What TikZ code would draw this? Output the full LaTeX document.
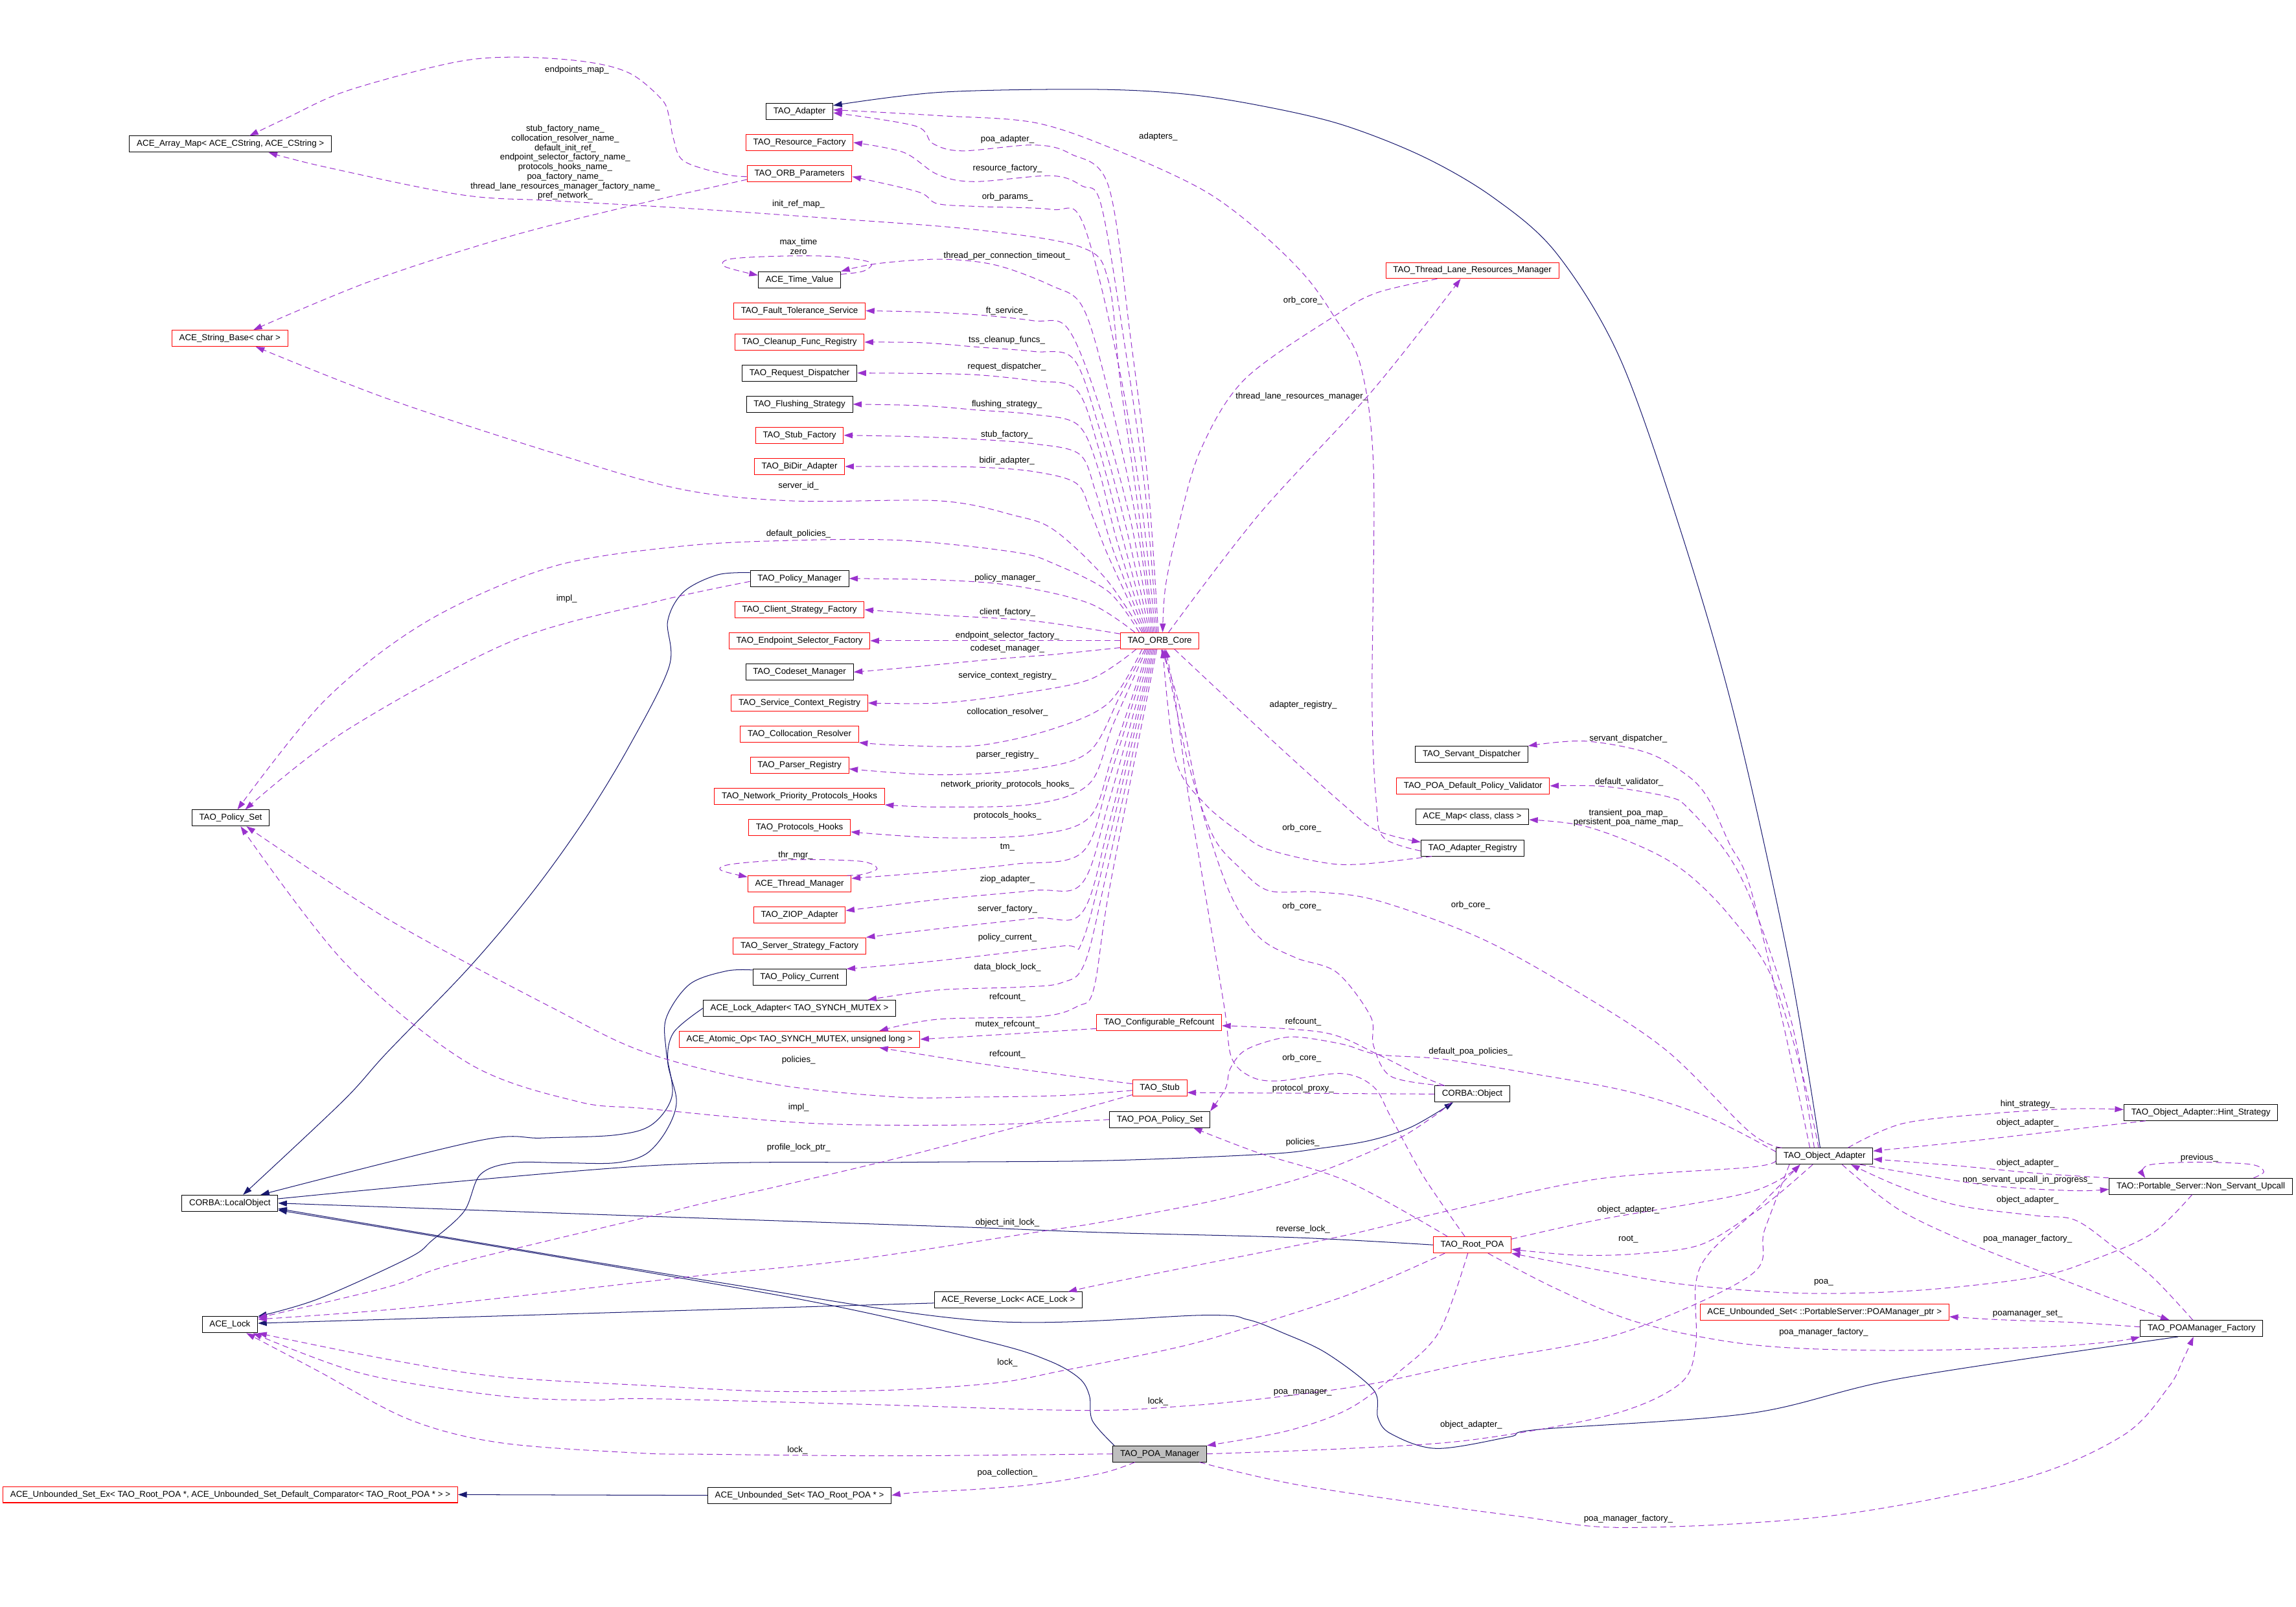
\documentclass[tikz,border=0pt]{standalone}
\usepackage{fontspec}
\setmainfont{Liberation Sans}
\usetikzlibrary{arrows.meta}
\definecolor{depc}{HTML}{9A32CD}
\definecolor{inhc}{HTML}{191970}
\definecolor{grayfill}{HTML}{BFBFBF}
\begin{document}
\begin{tikzpicture}[x=1pt,y=-1pt,
 cbox/.style={draw=black,line width=0.45pt,minimum height=11pt,inner xsep=5pt,inner ysep=0pt,font=\fontsize{5.9}{6}\selectfont},
 rbox/.style={cbox,draw=red},
 lbl/.style={font=\fontsize{5.9}{6.5}\selectfont,inner sep=0pt,align=center},
 dep/.style={draw=depc,line width=0.45pt,dash pattern=on 4pt off 2.5pt,-{Triangle[length=6pt,width=4pt]}},
 inh/.style={draw=inhc,line width=0.45pt,-{Triangle[length=6pt,width=4pt]}},
 sm/.style={smooth,tension=0.55}]
\useasboundingbox (0,0) rectangle (1568,1097.2);
% ---------- nodes ----------
\node[cbox] (arraymap) at (157.4,98.4) {ACE\_Array\_Map< ACE\_CString, ACE\_CString >};
\node[rbox] (strbase) at (157,231) {ACE\_String\_Base< char >};
\node[cbox] (polset) at (157.5,558.5) {TAO\_Policy\_Set};
\node[cbox] (localobj) at (157,821.5) {CORBA::LocalObject};
\node[cbox] (acelock) at (157,904.5) {ACE\_Lock};
\node[rbox] (usetex) at (157.3,1020.5) {ACE\_Unbounded\_Set\_Ex< TAO\_Root\_POA *, ACE\_Unbounded\_Set\_Default\_Comparator< TAO\_Root\_POA * > >};
\node[cbox] (adapter) at (546,76) {TAO\_Adapter};
\node[rbox] (resfac) at (546,97.3) {TAO\_Resource\_Factory};
\node[rbox] (orbparams) at (546,118.6) {TAO\_ORB\_Parameters};
\node[cbox] (timeval) at (546,191) {ACE\_Time\_Value};
\node[rbox] (ftserv) at (546,212.2) {TAO\_Fault\_Tolerance\_Service};
\node[rbox] (cleanup) at (546,233.6) {TAO\_Cleanup\_Func\_Registry};
\node[cbox] (reqdisp) at (546,254.7) {TAO\_Request\_Dispatcher};
\node[cbox] (flush) at (546,276) {TAO\_Flushing\_Strategy};
\node[rbox] (stubfac) at (546,297.2) {TAO\_Stub\_Factory};
\node[rbox] (bidir) at (546,318.5) {TAO\_BiDir\_Adapter};
\node[cbox] (polmgr) at (546,395) {TAO\_Policy\_Manager};
\node[rbox] (clistrat) at (546,416.3) {TAO\_Client\_Strategy\_Factory};
\node[rbox] (endpt) at (546,437.5) {TAO\_Endpoint\_Selector\_Factory};
\node[cbox] (codeset) at (546,458.9) {TAO\_Codeset\_Manager};
\node[rbox] (svcctx) at (546,480) {TAO\_Service\_Context\_Registry};
\node[rbox] (colloc) at (546,501.3) {TAO\_Collocation\_Resolver};
\node[rbox] (parser) at (546,522.5) {TAO\_Parser\_Registry};
\node[rbox] (netprio) at (546,543.8) {TAO\_Network\_Priority\_Protocols\_Hooks};
\node[rbox] (prothooks) at (546,565) {TAO\_Protocols\_Hooks};
\node[rbox] (thrmgr) at (546,603.5) {ACE\_Thread\_Manager};
\node[rbox] (ziop) at (546,624.8) {TAO\_ZIOP\_Adapter};
\node[rbox] (srvstrat) at (546,646) {TAO\_Server\_Strategy\_Factory};
\node[cbox] (polcur) at (546,667.3) {TAO\_Policy\_Current};
\node[cbox] (lockadapt) at (546,688.4) {ACE\_Lock\_Adapter< TAO\_SYNCH\_MUTEX >};
\node[rbox] (atomic) at (546,709.6) {ACE\_Atomic\_Op< TAO\_SYNCH\_MUTEX, unsigned long >};
\node[cbox] (uset) at (546,1021) {ACE\_Unbounded\_Set< TAO\_Root\_POA * >};
\node[cbox] (revlock) at (688.6,887.7) {ACE\_Reverse\_Lock< ACE\_Lock >};
\node[rbox] (orbcore) at (792,437.5) {TAO\_ORB\_Core};
\node[rbox] (confref) at (791.6,698.3) {TAO\_Configurable\_Refcount};
\node[rbox] (stub) at (792,743) {TAO\_Stub};
\node[cbox] (poapolset) at (792,764.4) {TAO\_POA\_Policy\_Set};
\node[cbox,fill=grayfill] (poamgr) at (792,992.7) {TAO\_POA\_Manager};
\node[rbox] (tlrm) at (1005.5,184.7) {TAO\_Thread\_Lane\_Resources\_Manager};
\node[cbox] (servdisp) at (1005,515) {TAO\_Servant\_Dispatcher};
\node[rbox] (validator) at (1006,536.6) {TAO\_POA\_Default\_Policy\_Validator};
\node[cbox] (acemap) at (1005.4,557.7) {ACE\_Map< class, class >};
\node[cbox] (adreg) at (1005.7,579) {TAO\_Adapter\_Registry};
\node[cbox] (corbaobj) at (1005.4,747) {CORBA::Object};
\node[rbox] (rootpoa) at (1005.4,850) {TAO\_Root\_POA};
\node[cbox] (objadapt) at (1246,789.4) {TAO\_Object\_Adapter};
\node[rbox] (usetmgr) at (1246,896) {ACE\_Unbounded\_Set< ::PortableServer::POAManager\_ptr >};
\node[cbox] (hint) at (1503,759.6) {TAO\_Object\_Adapter::Hint\_Strategy};
\node[cbox] (nsu) at (1503,810) {TAO::Portable\_Server::Non\_Servant\_Upcall};
\node[cbox] (poamgrfac) at (1503.5,907) {TAO\_POAManager\_Factory};
% ---------- inheritance ----------
\draw[inh] plot[sm] coordinates {([xshift=-3pt]objadapt.north) (1221,653) (1184,487) (1147,360) (1106,244) (1063,173) (1020,135) (972,107) (916,85) (860,72) (807,64) (744,61) (642,63) ([yshift=4pt]adapter.east)};
\draw[inh] plot[sm] coordinates {([yshift=4pt]polmgr.west) (490,392.5) (467,404) (456,424) (457,455) (430,509) (399,560) (363,610) (320,661) (264,719) (234,752) ([xshift=9pt]localobj.north)};
\draw[inh] plot[sm] coordinates {([yshift=5pt]polcur.west) (496,663) (471,672) (455,695) (455,718) (459,748) (445,768) (420,775) (370,777) (326,779) ([xshift=21pt]localobj.north)};
\draw[inh] plot[sm] coordinates {(lockadapt.west) (460,705) (456,725) (462,752) (455,772) (441,788) (420,794) (385,794) (350,794) (328,802) (317,827) (295,847) (279,859) (217,887) (acelock.north east)};
\draw[inh] plot[sm] coordinates {([yshift=3pt]localobj.east) (442,796) (617,793.6) (752,792.5) (865,788) (902,784) (935.5,778.7) (964,769.4) ([xshift=-13pt]corbaobj.south)};
\draw[inh] plot[sm] coordinates {(rootpoa.west) (885,845) (752,841.5) (662,838) (487,832) (localobj.east)};
\draw[inh] plot[sm] coordinates {([xshift=-31pt]poamgr.north) (746,970) (744,953) (737,941) (716,929) (674,916) (535,885) ([yshift=1pt]localobj.south east)};
\draw[inh] plot[sm] coordinates {([xshift=-16pt]poamgrfac.south) (1299,941) (1195,965) (1051,976) (1031,981) (981,989) (950,979) (941,968) (938,949) (906,924) (876,910) (852,901) (823,898) (674,902) (487,875) ([yshift=2pt]localobj.south east)};
\draw[inh] plot[sm] coordinates {([yshift=-2pt]revlock.west) (442,895.5) ([yshift=1pt]acelock.east)};
\draw[inh] (uset.west) -- (usetex.east);
% ---------- ORB_Core upper fan ----------
\draw[dep] plot[sm] coordinates {([xshift=-1pt]orbcore.north) (784,330) (772,230) (757,127) (731,105) (706,99) (657,103) (637,98) (625,86) ([yshift=-1pt]adapter.east)};
\draw[dep] plot[sm] coordinates {([xshift=-2pt]orbcore.north) (782,335) (768,235) (752,140) (739,127) (718,120) (665,124) (640,119) (617,104) (resfac.east)};
\draw[dep] plot[sm] coordinates {([xshift=-3pt]orbcore.north) (779,340) (762,240) (739,151) (718,143) (668,141) (640,139) (627,131) ([yshift=-2pt]orbparams.east)};
\draw[dep] plot[sm] coordinates {([xshift=-4pt]orbcore.north) (777,345) (765,260) (757,192) (739,169) (668,157) (566,149) (465,142) (377,137) (315,133) (222,114) ([xshift=26pt]arraymap.south)};
\draw[dep] plot[sm] coordinates {([xshift=-5pt]orbcore.north) (775,350) (755,260) (739,209) (718,195) (680,181) (642,177) (599,180) (timeval.north east)};
\draw[dep] plot[sm] coordinates {([xshift=-6pt]orbcore.north) (772,355) (750,275) (729,224) (706,219) (668,215) (630,213) (ftserv.east)};
\draw[dep] plot[sm] coordinates {([xshift=-7pt]orbcore.north) (769,360) (750,290) (733,245) (706,240) (668,237) (630,234) (cleanup.east)};
\draw[dep] plot[sm] coordinates {([xshift=-8pt]orbcore.north) (766,365) (750,305) (735,266) (706,260) (668,256) (630,255) (reqdisp.east)};
\draw[dep] plot[sm] coordinates {([xshift=-9pt]orbcore.north) (763,370) (750,320) (736,290) (706,283) (668,280) (630,277) (flush.east)};
\draw[dep] plot[sm] coordinates {([xshift=-10pt]orbcore.north) (760,375) (748,335) (737,310) (706,303) (668,300) (620,298) (stubfac.east)};
\draw[dep] plot[sm] coordinates {([xshift=-11pt]orbcore.north) (757,380) (745,350) (735,330) (706,322) (668,319) (620,318.5) (bidir.east)};
\draw[dep] plot[sm] coordinates {([xshift=-12pt]orbcore.north) (755,395) (720,362) (693,352) (642,342) (541,342) (465,334) (377,309) (264,272) (strbase.-18)};
\draw[dep] plot[sm] coordinates {([xshift=-14pt]orbcore.north) (757,404) (720,385) (693,377) (617,369) (541,369) (465,373) (377,387) (292,424) (222,478) (polset.51)};
\draw[dep] plot[sm] coordinates {([xshift=-17pt]orbcore.north) (744,412) (693,400) (642,396) (polmgr.east)};
\draw[dep] plot[sm] coordinates {([yshift=-1pt]orbcore.north west) (706,424) (642,420) (clistrat.east)};
\draw[dep] (orbcore.west) -- (endpt.east);
\draw[dep] plot[sm] coordinates {([yshift=1pt]orbcore.south west) (718,447) (680,450) (617,456) (codeset.east)};
% ---------- ORB_Core lower fan ----------
\draw[dep] plot[sm] coordinates {([xshift=-16pt]orbcore.south) (744,464) (693,474) (642,480) (svcctx.east)};
\draw[dep] plot[sm] coordinates {([xshift=-12pt]orbcore.south) (757,480) (718,498) (668,509) (617,509) (colloc.south east)};
\draw[dep] plot[sm] coordinates {([xshift=-10pt]orbcore.south) (765,475) (744,513) (706,525) (642,529) ([yshift=-2.5pt]parser.east)};
\draw[dep] plot[sm] coordinates {([xshift=-9pt]orbcore.south) (760,495) (744,535) (706,549) (642,551) (netprio.south east)};
\draw[dep] plot[sm] coordinates {([xshift=-8pt]orbcore.south) (760,515) (744,558) (706,570) (642,572) ([yshift=-3pt]prothooks.east)};
\draw[dep] plot[sm] coordinates {([xshift=-7pt]orbcore.south) (758,530) (739,582) (693,590) (642,595) ([yshift=-2pt]thrmgr.north east)};
\draw[dep] plot[sm] coordinates {([xshift=-6pt]orbcore.south) (758,545) (739,603) (706,608) (642,614) ([yshift=3pt]ziop.east)};
\draw[dep] plot[sm] coordinates {([xshift=-5pt]orbcore.south) (758,560) (739,623) (706,627) (642,634) ([yshift=6pt]srvstrat.east)};
\draw[dep] plot[sm] coordinates {([xshift=-4pt]orbcore.south) (757,575) (739,643) (725,646) (640,656) (polcur.north east)};
\draw[dep] plot[sm] coordinates {([xshift=-3pt]orbcore.south) (757,590) (741,657) (725,671) (696,674) (640,676) (lockadapt.7.3)};
\draw[dep] plot[sm] coordinates {([xshift=-2pt]orbcore.south) (758,605) (747,675) (736,687) (711,694) (640,696) (atomic.6.5)};
% ---------- ORB_Core others ----------
\draw[dep] plot[sm] coordinates {([xshift=10pt]orbcore.south) (866,503) (917,549) (940,567) ([yshift=4pt]adreg.west)};
\draw[dep] plot[sm] coordinates {([xshift=6pt]orbcore.north) (860,351) (937,267) ([xshift=-8pt]tlrm.south)};
\draw[dep] plot[sm] coordinates {([xshift=-24pt]tlrm.south) (940,200) (911,216) (850,259) (820,307) (805,358) (796,400) ([xshift=2pt]orbcore.north)};
\draw[dep] plot[sm] coordinates {([xshift=-28pt]adreg.south) (930,590) (904,589) (866,580) (849,570) (823,549) (803,519) ([xshift=2pt]orbcore.south)};
\draw[dep] plot[sm] coordinates {([yshift=-2pt]adreg.west) (945,572) (940,549) (937,480) (938,320) (929,249) (911,216) (891,188) (860,158) (822,130) (766,104) (708,84) (642,79) ([yshift=1pt]adapter.east)};
\draw[dep] plot[sm] coordinates {([xshift=4pt]objadapt.north west) (1195,773) (1139,718) (1082,680) (1012,641) (941,615) (899,609) (866,608) (846,592) (828,570) (811,519) ([xshift=3pt]orbcore.south)};
\draw[dep] plot[sm] coordinates {([xshift=-5pt]rootpoa.north) (972,803) (950,763) (938,742) (916,733) (873,738) (854,735) (841,722) (836,687) (821,598) (811,539) (803,480) ([xshift=4pt]orbcore.south)};
\draw[dep] plot[sm] coordinates {([xshift=-20pt]corbaobj.north) (950,735) (938,714) (936,694) (913,664) (885,654) (860,640) (840,610) (820,550) (805,480) ([xshift=1pt]orbcore.south)};
% ---------- ORB_Parameters ----------
\draw[dep] plot[sm] coordinates {([yshift=-2pt]orbparams.west) (495,119) (467,110) (460,95) (457,80) (452,68) (430,50) (399,42) (350,39) (308,43) (237,62) (197,80) ([xshift=13pt]arraymap.north)};
\draw[dep] plot[sm] coordinates {([yshift=-4pt]orbparams.west) (433,140) (346,162) (253,192) ([xshift=16pt]strbase.north)};
% ---------- self loops ----------
\draw[dep] plot[sm] coordinates {([yshift=-2pt]timeval.north east) (590,185) (594,179) (566,175) (528,175) (498,177) (495,182) ([yshift=3pt]timeval.west)};
\draw[dep] plot[sm] coordinates {([xshift=-3pt]thrmgr.north east) (589,597) (599,593) (587,588) (541,587) (500,590) (492,594) ([yshift=-1pt]thrmgr.north west)};
\draw[dep] plot[sm] coordinates {([xshift=36pt]nsu.north) (1546,800) (1537,795) (1500,793.5) (1470,795) (1463,799) ([xshift=-38pt]nsu.north)};
% ---------- Policy_Set ----------
\draw[dep] plot[sm] coordinates {([yshift=-2pt]polmgr.west) (447,411) (349,438) (236,499) (polset.30)};
\draw[dep] plot[sm] coordinates {([yshift=-1.5pt]stub.west) (725,748) (668,749) (612,749) (527,740) (442,719) (377,688) (264,627) (polset.-28)};
\draw[dep] plot[sm] coordinates {(poapolset.west) (668,768) (555,767) (442,757) (394,752) (320,726) (236,658) (polset.-40)};
% ---------- Stub / Refcount ----------
\draw[dep] plot[sm] coordinates {([yshift=-4pt]confref.west) (690,706) (atomic.east)};
\draw[dep] plot[sm] coordinates {([yshift=3pt]stub.west) (724.7,733.8) (668,726) (atomic.-6.7)};
\draw[dep] plot[sm] coordinates {([yshift=-4.5pt]stub.west) (696,769) (612,791) (527,811) (487,820) (442,831) (310,863) (264,879) ([yshift=-1pt]acelock.north east)};
% ---------- CORBA::Object ----------
\draw[dep] plot[sm] coordinates {([xshift=7pt]corbaobj.north west) (969,734) (941,720) (904,705) ([yshift=-2pt]confref.east)};
\draw[dep] (corbaobj.west) -- ([yshift=-3pt]stub.east);
\draw[dep] plot[sm] coordinates {(corbaobj.-158) (978,763) (950,780) (893,803) (828,820) (752,834.5) (713,840.5) (584,860) (487,870) (442,875) (279,893) ([yshift=-2pt]acelock.north east)};
% ---------- Object_Adapter ----------
\draw[dep] plot[sm] coordinates {([xshift=-10pt]objadapt.north) (1218,700) (1195,605) (1181,576) (1167,546) (1153,530) (1125,514) (1082,506) (servdisp.north east)};
\draw[dep] plot[sm] coordinates {([xshift=-7pt]objadapt.north) (1224,700) (1200,625) (1181,585) (1153,552) (1139,544) (1096,537) (validator.east)};
\draw[dep] plot[sm] coordinates {([xshift=-4pt]objadapt.north) (1230,730) (1209,665) (1181,625) (1153,597) (1125,580) (1082,564) ([yshift=-2pt]acemap.east)};
\draw[dep] plot[sm] coordinates {([yshift=3pt]objadapt.west) (1167,763) (1111,745) (1040,732) (984,723) (941,720) (917,713) (885,708) (866,711) (849,718) (840,730) (837,743) (poapolset.north east)};
\draw[dep] plot[sm] coordinates {([yshift=-3pt]objadapt.west) (1195,797) (1091,805) (992,826) (921,843) (837,860) (752,877) ([xshift=-10pt]revlock.north east)};
\draw[dep] plot[sm] coordinates {([xshift=-24pt]objadapt.south) (1205,840) (1195,871) (1105,911) (1006,930) (936,945) (871,954) (809,960) (739,963) (595,959) (442,955) (403,956) (341,953) (248,938) (acelock.-20)};
\draw[dep] plot[sm] coordinates {([xshift=-8pt]objadapt.south) (1215,815) (1195,830) (1161,850) (1119,856) (1077,857) ([yshift=-3pt]rootpoa.east)};
\draw[dep] plot[sm] coordinates {([xshift=12pt]objadapt.south) (1297,826) (1350,851) (1417,877) (1456,892) ([xshift=-22pt]poamgrfac.north)};
\draw[dep] plot[sm] coordinates {([xshift=16pt]objadapt.north) (1300,767) (1364,760) (1417,757) ([yshift=2pt]hint.west)};
\draw[dep] plot[sm] coordinates {([xshift=-9pt]objadapt.south east) (1310,802) (1364,810) (1417,813) ([yshift=-2pt]nsu.west)};
% ---------- Hint / NSU / POAManager_Factory ----------
\draw[dep] plot[sm] coordinates {([xshift=15pt]hint.south west) (1390,774) (1337,780) ([yshift=3.5pt]objadapt.east)};
\draw[dep] plot[sm] coordinates {(nsu.north west) (1390,801) (1337,796) ([yshift=-2pt]objadapt.east)};
\draw[dep] plot[sm] coordinates {([xshift=-6pt]nsu.south) (1470,842) (1430,860) (1390,872) (1310,881) (1230,883) (1150,877) (1091,867) (rootpoa.south east)};
\draw[dep] plot[sm] coordinates {([xshift=-6pt]poamgrfac.north) (1470,872) (1443,851) (1417,833) (1390,830) (1337,823) (1297,810) ([xshift=18pt]objadapt.south)};
\draw[dep] plot[sm] coordinates {([yshift=1pt]poamgrfac.west) (1417,903) (1364,901) ([yshift=-3pt]usetmgr.east)};
% ---------- Root_POA ----------
\draw[dep] plot[sm] coordinates {([xshift=10pt]rootpoa.north west) (921,807) (859,787) (poapolset.-14)};
\draw[dep] plot[sm] coordinates {(rootpoa.-163) (921,884) (837,911) (795,922) (725,936) (682,944) (612,949) (527,950) (442,946) (341,940) (264,928) (acelock.south east)};
\draw[dep] plot[sm] coordinates {([xshift=-3pt]rootpoa.south) (983,909) (955,937) (921,962) (879,977) (poamgr.north east)};
\draw[dep] plot[sm] coordinates {([yshift=4pt]rootpoa.east) (1091,833) (1195,814) (objadapt.-161)};
\draw[dep] plot[sm] coordinates {([xshift=-16pt]rootpoa.south east) (1063,880) (1119,903) (1195,918) (1283,922) (1390,920) (1443,916) (poamgrfac.south west)};
% ---------- POA_Manager ----------
\draw[dep] plot[sm] coordinates {(poamgr.west) (612,994) (487,993) (434,992) (341,985) (279,969) (217,936) (acelock.-27)};
\draw[dep] plot[sm] coordinates {([xshift=-17pt]poamgr.south) (752.8,1005.8) (710.5,1013) (668,1016.8) (625.8,1019) (uset.east)};
\draw[dep] plot[sm] coordinates {(poamgr.east) (921,989) (1006,983) (1100,966) (1147,945) (1158,919) (1158,877) (1167,856) (1195,830) (objadapt.-161)};
\draw[dep] plot[sm] coordinates {([xshift=-5pt]poamgr.south east) (893,1015) (1035,1035) (1111,1043) (1250,1035) (1380,1010) (1450,980) (1481,947) (1491,928) (poamgrfac.-134)};
% ---------- labels ----------
\node[lbl] (l01) at (394,48) {endpoints\_map\_};
\node[lbl] (l02) at (386,111) {stub\_factory\_name\_\\collocation\_resolver\_name\_\\default\_init\_ref\_\\endpoint\_selector\_factory\_name\_\\protocols\_hooks\_name\_\\poa\_factory\_name\_\\thread\_lane\_resources\_manager\_factory\_name\_\\pref\_network\_};
\node[lbl] (l03) at (545.3,139.6) {init\_ref\_map\_};
\node[lbl] (l04) at (545.3,168.1) {max\_time\\zero};
\node[lbl] (l05) at (688,95) {poa\_adapter\_};
\node[lbl] (l06) at (688,115) {resource\_factory\_};
\node[lbl] (l07) at (688,134.7) {orb\_params\_};
\node[lbl] (l08) at (791,93.5) {adapters\_};
\node[lbl] (l09) at (687.6,174.6) {thread\_per\_connection\_timeout\_};
\node[lbl] (l10) at (889.7,205.3) {orb\_core\_};
\node[lbl] (l11) at (889,270.8) {thread\_lane\_resources\_manager\_};
\node[lbl] (l12) at (687.6,212.2) {ft\_service\_};
\node[lbl] (l13) at (687.6,232.1) {tss\_cleanup\_funcs\_};
\node[lbl] (l14) at (687.6,250.6) {request\_dispatcher\_};
\node[lbl] (l15) at (687.6,276.3) {flushing\_strategy\_};
\node[lbl] (l16) at (687.6,296.7) {stub\_factory\_};
\node[lbl] (l17) at (687.6,314.4) {bidir\_adapter\_};
\node[lbl] (l18) at (545.3,332) {server\_id\_};
\node[lbl] (l19) at (545.3,364.8) {default\_policies\_};
\node[lbl] (l20) at (387,409) {impl\_};
\node[lbl] (l21) at (688,394.5) {policy\_manager\_};
\node[lbl] (l22) at (688,418) {client\_factory\_};
\node[lbl] (l23) at (688,434) {endpoint\_selector\_factory\_};
\node[lbl] (l24) at (688,442.7) {codeset\_manager\_};
\node[lbl] (l25) at (688,461.3) {service\_context\_registry\_};
\node[lbl] (l26) at (890,481.2) {adapter\_registry\_};
\node[lbl] (l27) at (688,486.3) {collocation\_resolver\_};
\node[lbl] (l28) at (1112,504.3) {servant\_dispatcher\_};
\node[lbl] (l29) at (688,515.4) {parser\_registry\_};
\node[lbl] (l30) at (1112.6,533.9) {default\_validator\_};
\node[lbl] (l31) at (688,535.8) {network\_priority\_protocols\_hooks\_};
\node[lbl] (l32) at (1112,558.4) {transient\_poa\_map\_\\persistent\_poa\_name\_map\_};
\node[lbl] (l33) at (688,557) {protocols\_hooks\_};
\node[lbl] (l34) at (889,565.5) {orb\_core\_};
\node[lbl] (l35) at (688,578.6) {tm\_};
\node[lbl] (l36) at (543.3,584) {thr\_mgr\_};
\node[lbl] (l37) at (688,600.3) {ziop\_adapter\_};
\node[lbl] (l38) at (889,618.8) {orb\_core\_};
\node[lbl] (l39) at (1004.3,617.9) {orb\_core\_};
\node[lbl] (l40) at (688,620.6) {server\_factory\_};
\node[lbl] (l41) at (688,640.4) {policy\_current\_};
\node[lbl] (l42) at (688,660.5) {data\_block\_lock\_};
\node[lbl] (l43) at (688,680.8) {refcount\_};
\node[lbl] (l44) at (688,699.5) {mutex\_refcount\_};
\node[lbl] (l45) at (890,697.7) {refcount\_};
\node[lbl] (l46) at (688,719.8) {refcount\_};
\node[lbl] (l47) at (1004.3,718.1) {default\_poa\_policies\_};
\node[lbl] (l48) at (889,722.5) {orb\_core\_};
\node[lbl] (l49) at (545.4,723.7) {policies\_};
\node[lbl] (l50) at (889.9,743.2) {protocol\_proxy\_};
\node[lbl] (l51) at (545.4,756) {impl\_};
\node[lbl] (l52) at (1384.7,754) {hint\_strategy\_};
\node[lbl] (l53) at (1384.7,766.6) {object\_adapter\_};
\node[lbl] (l54) at (889.6,780) {policies\_};
\node[lbl] (l55) at (545.4,783.4) {profile\_lock\_ptr\_};
\node[lbl] (l56) at (1502,790.5) {previous\_};
\node[lbl] (l57) at (1384.7,794.2) {object\_adapter\_};
\node[lbl] (l58) at (1384.7,805.7) {non\_servant\_upcall\_in\_progress\_};
\node[lbl] (l59) at (1384.7,819.3) {object\_adapter\_};
\node[lbl] (l60) at (1112,826) {object\_adapter\_};
\node[lbl] (l61) at (688,835) {object\_init\_lock\_};
\node[lbl] (l62) at (889.9,839.2) {reverse\_lock\_};
\node[lbl] (l63) at (1112,846) {root\_};
\node[lbl] (l64) at (1384.7,845.8) {poa\_manager\_factory\_};
\node[lbl] (l65) at (1245.4,875.7) {poa\_};
\node[lbl] (l66) at (1384.7,897.1) {poamanager\_set\_};
\node[lbl] (l67) at (1245.4,909.6) {poa\_manager\_factory\_};
\node[lbl] (l68) at (688,930.3) {lock\_};
\node[lbl] (l69) at (889.6,950.9) {poa\_manager\_};
\node[lbl] (l70) at (790.8,956.9) {lock\_};
\node[lbl] (l71) at (1004.7,972.9) {object\_adapter\_};
\node[lbl] (l72) at (544.6,990.3) {lock\_};
\node[lbl] (l73) at (688,1005.8) {poa\_collection\_};
\node[lbl] (l74) at (1112,1037.2) {poa\_manager\_factory\_};
\end{tikzpicture}
\end{document}
